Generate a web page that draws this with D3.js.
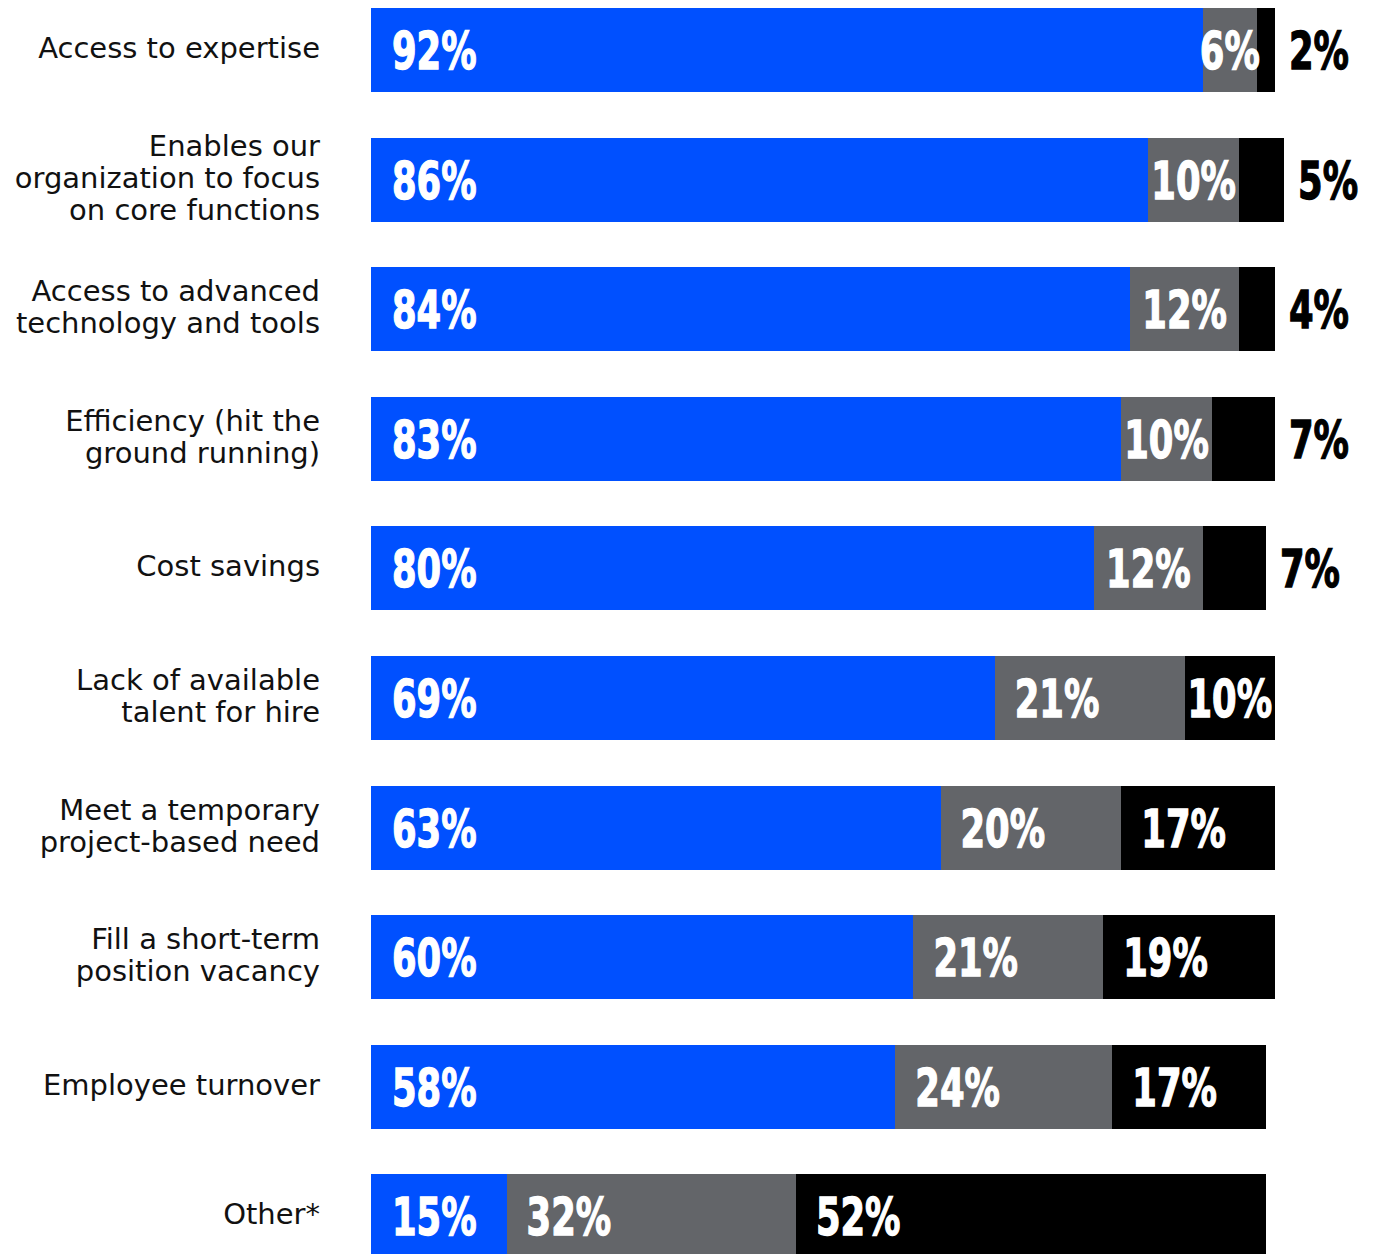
<!DOCTYPE html>
<html>
<head>
<meta charset="utf-8">
<script src="https://cdn.jsdelivr.net/npm/d3@7"></script>
<style>
  html, body { margin: 0; padding: 0; background: #fff; }
  svg { display: block; }
</style>
</head>
<body>
<script>
// Reasons for using outside talent: share of respondents per answer
const categories = [
  "Access to expertise",
  "Enables our\norganization to focus\non core functions",
  "Access to advanced\ntechnology and tools",
  "Efficiency (hit the\nground running)",
  "Cost savings",
  "Lack of available\ntalent for hire",
  "Meet a temporary\nproject-based need",
  "Fill a short-term\nposition vacancy",
  "Employee turnover",
  "Other*"
];
const seriesKeys = ["first", "second", "third"];
const firstValues  = [92, 86, 84, 83, 80, 69, 63, 60, 58, 15];
const secondValues = [6, 10, 12, 10, 12, 21, 20, 21, 24, 32];
const thirdValues  = [2, 5, 4, 7, 7, 10, 17, 19, 17, 52];
const seriesColors = ["#0050ff", "#636569", "#000000"];

const W = 1376, H = 1254;
const svg = d3.select("body").append("svg").attr("width", W).attr("height", H);

const rows = categories.map((c, i) => ({
  category: c,
  first: firstValues[i],
  second: secondValues[i],
  third: thirdValues[i]
}));
const stacked = d3.stack().keys(seriesKeys)(rows);

const x = d3.scaleLinear().domain([0, 100]).range([371, 1275]);
const y = d3.scaleBand().domain(categories).range([8, 1258.4]).paddingInner(0.352).paddingOuter(0);
const color = d3.scaleOrdinal().domain(seriesKeys).range(seriesColors);

// stacked segments
const layers = svg.append("g").selectAll("g").data(stacked).join("g")
  .attr("fill", d => color(d.key));
layers.selectAll("rect").data(d => d)
  .join("rect")
  .attr("x", d => x(d[0]))
  .attr("y", d => y(d.data.category))
  .attr("width", d => x(d[1]) - x(d[0]))
  .attr("height", y.bandwidth())
  .attr("shape-rendering", "crispEdges");

// category labels, right aligned, one tspan per line
const catG = svg.append("g")
  .attr("font-family", "'DejaVu Sans', sans-serif")
  .attr("font-size", 29)
  .attr("fill", "#111");
categories.forEach(c => {
  const lines = c.split("\n");
  const lh = 32;
  const cy = y(c) + y.bandwidth() / 2 - 2;
  const t = catG.append("text").attr("text-anchor", "end");
  lines.forEach((ln, j) => {
    t.append("tspan")
      .attr("x", 320)
      .attr("y", cy + (j - (lines.length - 1) / 2) * lh)
      .attr("dominant-baseline", "central")
      .text(ln);
  });
});

// value labels in a heavy condensed style
const numSize = 52, squeeze = 0.68;
const labelG = svg.append("g")
  .attr("font-family", "'DejaVu Sans', sans-serif")
  .attr("font-weight", "bold")
  .attr("font-size", numSize);

stacked.forEach((layer, li) => {
  layer.forEach(seg => {
    const v = seg[1] - seg[0];
    const x0 = x(seg[0]), x1 = x(seg[1]);
    const cy = y(seg.data.category) + y.bandwidth() / 2;
    // small final segments get their label past the end of the bar
    const outside = li === seriesKeys.length - 1 && v < 8;
    const t = labelG.append("text")
      .attr("fill", outside ? "#000" : "#fff")
      .attr("stroke", outside ? "#000" : "#fff")
      .attr("stroke-width", 1.4)
      .text(v + "%");
    const tw = t.node().getComputedTextLength() * squeeze;
    let tx;
    if (outside) tx = x1 + 14;
    else if (li === 0) tx = x0 + 21;
    else tx = x0 + Math.min(20, (x1 - x0 - tw) / 2);
    t.attr("transform", `translate(${tx},${cy + numSize * 0.365}) scale(${squeeze},1)`);
  });
});
</script>
</body>
</html>
